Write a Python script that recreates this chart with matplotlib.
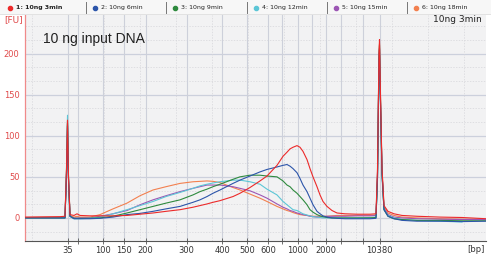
import numpy as np
import matplotlib.pyplot as plt
from matplotlib.patches import Rectangle
from matplotlib.lines import Line2D

# migration time (s) of the sampled points
time_s = [34.5, 41.5, 42.5, 42.8, 43.0, 43.2, 43.5, 44.3, 44.9, 45.5,
          47.5, 49.5, 52.1, 54.9, 57.5, 60.1, 62.7, 65.5, 68.1, 69.5,
          70.9, 72.1, 73.5, 76.1, 77.5, 79.5, 81.5, 82.9, 84.9, 86.1,
          86.9, 87.5, 88.1, 88.9, 89.5, 90.1, 90.9, 91.5, 92.1, 92.9,
          93.5, 94.1, 94.9, 95.9, 96.9, 98.5, 100.9, 103.5, 104.7, 105.0,
          105.3, 105.4, 105.6, 105.9, 106.3, 107.1, 108.3, 109.9, 112.9, 117.5,
          121.9, 126.7]

fu_3min = [1, 1.5, 2, 60, 119, 50, 4, 3, 5, 3,
           2.5, 2.5, 2.5, 3, 4.5, 6, 8, 10, 13, 15,
           17, 19, 21, 26, 30, 37, 45, 51, 64, 75,
           80, 84, 86, 88, 86, 81, 71, 60, 50, 38,
           28, 20, 14, 9, 6, 5, 4.5, 4.5, 5, 60,
           200, 217, 150, 60, 15, 8, 5, 3, 2, 1,
           0.5, -1]
fu_6min = [0, 0, 0, 50, 112, 45, 2, -1, -1, -1,
           -1, -0.5, 1, 4, 5.5, 8, 11, 14, 19, 22,
           26, 30, 34, 42, 46, 51, 56, 59, 62, 64,
           65, 63, 60, 55, 48, 40, 32, 24, 16, 8,
           5, 2.5, 1, 0, -0.5, -1, -1, -1, -0.5, 50,
           190, 205, 140, 55, 10, 2, -1, -3, -4, -4,
           -4.5, -4]
fu_9min = [0, 0, 0, 55, 116, 48, 2, -0.5, -0.5, -0.5,
           -0.5, 0, 2, 6, 10, 14, 18, 22, 28, 32,
           35, 38, 41, 47, 50, 52, 52, 51, 50, 45,
           40, 38, 34, 30, 26, 22, 16, 10, 7, 4,
           2.5, 1.5, 0.5, 0, 0, 0, 0, 0, 0.5, 50,
           195, 210, 145, 55, 10, 2, -1, -2, -3, -3,
           -3.5, -3.5]
fu_12min = [0, 0, 0, 60, 125, 50, 2, -1, -1, -1,
            -0.5, 1, 5, 10, 15, 20, 26, 31, 36, 39,
            41, 42.5, 44, 46, 46, 44, 41, 35, 28, 20,
            16, 13, 10, 9, 7, 5, 3.5, 2.5, 1.5, 1,
            0.5, 0, 0, 0, 0, 0, 0, 0.5, 1, 45,
            185, 200, 135, 50, 10, 3, 0, -2, -3, -4,
            -5, np.nan]
fu_15min = [0, 0, 0, 55, 114, 48, 2, 0, 0, 0,
            0, 2, 5, 9, 16, 22, 27, 32, 36, 38,
            40, 40, 40, 38, 36, 33, 28, 24, 17, 13,
            11, 9, 8, 6, 5, 4, 3, 2, 1.5, 1,
            1, 1.5, 2, 2, 2, 2, 2.5, 2.5, 3, 50,
            192, 207, 140, 55, 12, 4, 1, 0, -1, -1.5,
            -2, -2]
fu_18min = [0.5, 1, 1, 58, 118, 50, 3, 1, 2, 1,
            1, 4, 11, 18, 27, 34, 38, 42, 44, 44.5,
            45, 44.5, 43, 37, 34, 29, 24, 20, 14, 11,
            9, 8, 6.5, 5, 4, 3.5, 3, 2.5, 2, 2,
            2, 2, 2, 2.5, 3, 3, 3, 3, 3.5, 55,
            200, 212, 145, 60, 14, 6, 3, 1, 0, -1,
            -1.5, -2]

series_names = ['1: 10ng 3min', '2: 10ng 6min', '3: 10ng 9min',
                '4: 10ng 12min', '5: 10ng 15min', '6: 10ng 18min']
series_values = [fu_3min, fu_6min, fu_9min, fu_12min, fu_15min, fu_18min]
series_colors = ['#ec2a2a', '#2c55aa', '#2f8a3e', '#5cc6d6', '#9c56b4', '#f2804f']

# ladder peaks (bp) and their migration times
ladder_bp = [35, 50, 100, 150, 200, 300, 400, 500, 600, 700,
             1000, 1500, 2000, 3000, 7000, 10380]
ladder_time = [43.0, 45.1, 50.1, 54.2, 58.6, 66.8, 73.9, 78.9, 83.1, 85.9,
               89.1, 91.9, 94.7, 97.7, 102.1, 105.4]
ladder_shown = [35, 100, 150, 200, 300, 400, 500, 600, 1000, 2000, 10380]

fig = plt.figure(figsize=(4.91, 2.64), dpi=100)
ax = fig.add_axes([25 / 491, 23.5 / 264, 461 / 491, 225.5 / 264])
ax.set_facecolor('#f2f2f3')
ax.set_xlim(34.5, 126.7)
ax.set_ylim(-27.5, 247)

# grid
for v in np.arange(-50 / 3, 247, 50 / 3):
    if abs(v / 50 - round(v / 50)) > 0.01:
        ax.axhline(v, color='#d6d6da', lw=0.5, ls=(0, (2, 2)), zorder=0)
for v in range(0, 250, 50):
    ax.axhline(v, color='#ccd0dc', lw=0.9, zorder=0)
for t in np.arange(35.9, 127, 7.2):
    ax.axvline(t, color='#d6d6da', lw=0.5, ls=(0, (2, 2)), zorder=0)
for t in ladder_time:
    ax.axvline(t, color='#cdd0da', lw=0.8, zorder=0)

for i in range(5, -1, -1):
    ax.plot(time_s, series_values[i], color=series_colors[i], lw=0.8, zorder=2 + (5 - i))

ax.set_xticks(ladder_time)
ax.set_xticklabels([str(b) if b in ladder_shown else '' for b in ladder_bp],
                   fontsize=6, color='#333333')
ax.set_yticks([0, 50, 100, 150, 200])
ax.set_yticklabels(['0', '50', '100', '150', '200'], fontsize=6, color='#e04a4a')
ax.tick_params(axis='x', direction='inout', length=4, width=0.6, color='#555555', pad=2)
ax.tick_params(axis='y', length=0, pad=4)
for s in ['top', 'right']:
    ax.spines[s].set_visible(False)
ax.spines['left'].set_color('#f08a8a')
ax.spines['left'].set_linewidth(0.9)
ax.spines['bottom'].set_color('#555555')
ax.spines['bottom'].set_linewidth(0.8)

fig.text(485 / 491, 1 - 250 / 264, '[bp]', fontsize=6, color='#333333', ha='right', va='center')
fig.text(4 / 491, 1 - 20 / 264, '[FU]', fontsize=6.5, color='#e04a4a', ha='left', va='center')
fig.text(482 / 491, 1 - 20 / 264, '10ng 3min', fontsize=6.5, color='#222222', ha='right', va='center')
ax.text(0.04, 0.895, '10 ng input DNA', transform=ax.transAxes, fontsize=10,
        family='Liberation Sans', color='#222222', ha='left', va='center')

# header bar with sample names
fig.patches.append(Rectangle((0, 1 - 14 / 264), 1, 14 / 264, transform=fig.transFigure,
                             facecolor='#f7f7f7', edgecolor='none', zorder=0))
fig.lines.append(Line2D([0, 1], [1 - 14 / 264, 1 - 14 / 264], transform=fig.transFigure,
                        color='#dddddd', lw=0.6))
sep_px = [86, 166, 246.5, 327, 407]
for x in sep_px:
    fig.lines.append(Line2D([x / 491, x / 491], [1 - 13 / 264, 1 - 2 / 264],
                            transform=fig.transFigure, color='#777777', lw=0.7))
for i, name in enumerate(series_names):
    x0 = (6 if i == 0 else sep_px[i - 1] + 5) / 491
    fig.lines.append(Line2D([x0 + 4 / 491], [1 - 8 / 264], transform=fig.transFigure,
                            marker='o', ms=3, color=series_colors[i], lw=0))
    fig.text(x0 + 10 / 491, 1 - 8 / 264, name, fontsize=4.5, color='#222222',
             fontweight='bold' if i == 0 else 'normal', ha='left', va='center')

fig.savefig('out.png', dpi=100)
